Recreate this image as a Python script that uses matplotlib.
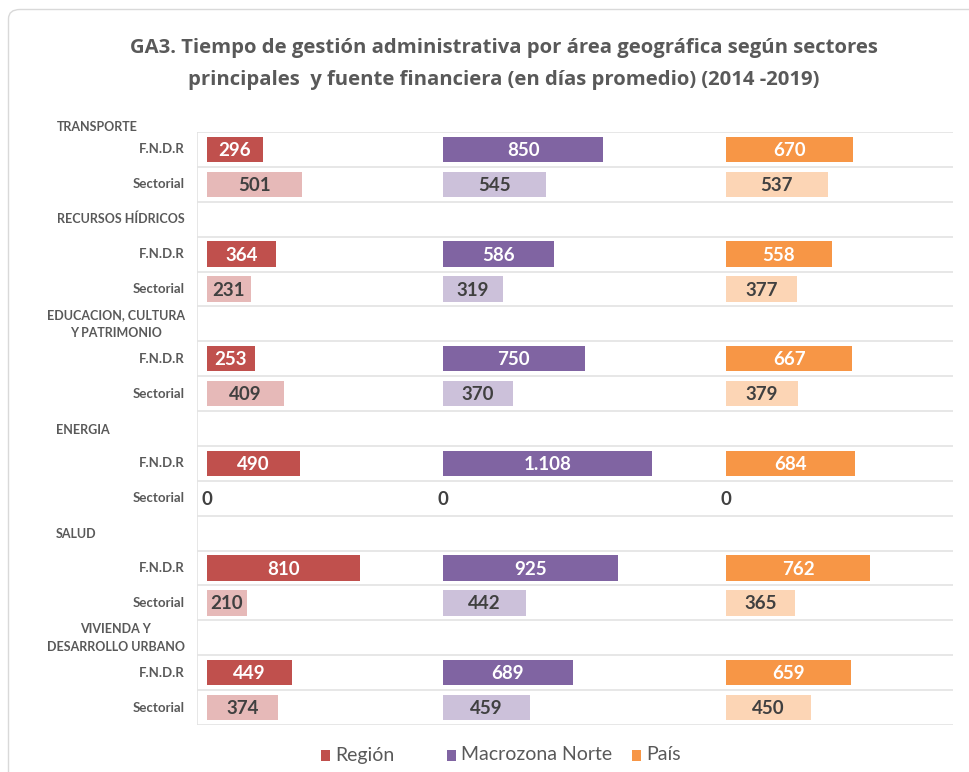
import matplotlib
matplotlib.use("Agg")
import matplotlib.pyplot as plt
from matplotlib.patches import FancyBboxPatch, Rectangle

# ---------------- data ----------------
sectors = ["TRANSPORTE", "RECURSOS HÍDRICOS", "EDUCACION, CULTURA\nY PATRIMONIO",
           "ENERGIA", "SALUD", "VIVIENDA Y\nDESARROLLO URBANO"]
sources = ["F.N.D.R", "Sectorial"]
series_names = ["Región", "Macrozona Norte", "País"]
region_fndr = [296, 364, 253, 490, 810, 449]
region_sect = [501, 231, 409, 0, 210, 374]
macro_fndr = [850, 586, 750, 1108, 925, 689]
macro_sect = [545, 319, 370, 0, 442, 459]
pais_fndr = [670, 558, 667, 684, 762, 659]
pais_sect = [537, 377, 379, 0, 365, 450]
title = ("GA3. Tiempo de gestión administrativa por área geográfica según sectores\n"
         "principales  y fuente financiera (en días promedio) (2014 -2019)")

# ---------------- style ----------------
W, H = 969, 772
dark_colors = ["#C0504D", "#8064A2", "#F79646"]
light_colors = ["#E6B9B8", "#CCC1DA", "#FCD5B5"]
offsets = [53, 1303, 2803]
grid_c = "#E3E3E3"
txt_c = "#595959"
lbl_font = "Lato"

fig = plt.figure(figsize=(W / 100, H / 100), dpi=100)
fig.patch.set_facecolor("white")

# outer border (only left/top visible)
border = FancyBboxPatch((8.5 / W, 1 - 1000 / H), 1000 / W, (1000 - 9.5) / H,
                        boxstyle="round,pad=0,rounding_size=0.012",
                        transform=fig.transFigure, facecolor="none",
                        edgecolor="#D9D9D9", linewidth=1.0)
fig.patches.append(border)

ax_left, ax_right, ax_top, ax_bot = 197, 953, 132, 725
ax = fig.add_axes([ax_left / W, 1 - ax_bot / H, (ax_right - ax_left) / W, (ax_bot - ax_top) / H])

# rows: first sector has no header row inside the plot area
rows = []  # (kind, sector_idx, source_idx)
for i, s in enumerate(sectors):
    if i > 0:
        rows.append(("header", i, None))
    rows.append(("bar", i, 0))
    rows.append(("bar", i, 1))
n = len(rows)

series = [(region_fndr, region_sect), (macro_fndr, macro_sect), (pais_fndr, pais_sect)]

def fmt(v):
    return f"{v:,}".replace(",", ".")

for y, (kind, si, src) in enumerate(rows):
    if kind != "bar":
        continue
    for k, (f_vals, s_vals) in enumerate(series):
        vals = f_vals if src == 0 else s_vals
        v = vals[si]
        col = dark_colors[k] if src == 0 else light_colors[k]
        ax.barh(y, v, left=offsets[k], height=0.73, color=col, edgecolor="none")
        tc = "white" if src == 0 else "#404040"
        ax.text(offsets[k] + v / 2, y + 0.03, fmt(v), ha="center", va="center",
                fontsize=13.5, fontweight="bold", color=tc, family=lbl_font)

ax.set_xlim(0, (ax_right - ax_left) / 0.1888)
ax.set_ylim(n - 0.5, -0.5)
for b in range(n + 1):
    ax.axhline(b - 0.5, color=grid_c, linewidth=1.2, zorder=0)
ax.axvline(0, color=grid_c, linewidth=1.2, zorder=0)
for sp in ax.spines.values():
    sp.set_visible(False)
ax.set_xticks([])
ax.set_yticks([])

# row labels
def px_to_fig(x, y):
    return x / W, 1 - y / H

hdr_fs = 9.0
row_h = (ax_bot - ax_top) / n
for y, (kind, si, src) in enumerate(rows):
    yc = ax_top + (y + 0.5) * row_h
    if kind == "bar":
        fx, fy = px_to_fig(185, yc)
        fig.text(fx, fy, sources[src], ha="right", va="center", fontsize=9.5,
                 fontweight="bold", color=txt_c, family=lbl_font)
    else:
        name = sectors[si]
        if "\n" in name:
            fx, fy = px_to_fig(116, yc)
            fig.text(fx, fy, name, ha="center", va="center", fontsize=hdr_fs,
                     fontweight="bold", color=txt_c, family=lbl_font, linespacing=1.6)
        elif si == 1:
            fx, fy = px_to_fig(185, yc)
            fig.text(fx, fy, name, ha="right", va="center", fontsize=hdr_fs,
                     fontweight="bold", color=txt_c, family=lbl_font)
        else:
            fx, fy = px_to_fig(56, yc + 1)
            fig.text(fx, fy, name, ha="left", va="center", fontsize=hdr_fs,
                     fontweight="bold", color=txt_c, family=lbl_font)
# first sector header sits above plot area
fx, fy = px_to_fig(57, 127)
fig.text(fx, fy, sectors[0], ha="left", va="center", fontsize=hdr_fs,
         fontweight="bold", color=txt_c, family=lbl_font)

# title
fx, fy = px_to_fig(504, 64)
fig.text(fx, fy, title, ha="center", va="center", fontsize=14.6, fontweight="bold",
         color=txt_c, family="Open Sans", linespacing=1.77)

# legend
leg_x = [321, 447, 632]
for k, name in enumerate(series_names):
    x0 = leg_x[k]
    fig.patches.append(Rectangle((x0 / W, 1 - 761 / H), 9 / W, 11 / H,
                                 transform=fig.transFigure, facecolor=dark_colors[k],
                                 edgecolor="none"))
    fx, fy = px_to_fig(x0 + 14, 755)
    fig.text(fx, fy, name, ha="left", va="center", fontsize=14,
             color=txt_c, family=lbl_font)

fig.savefig("out.png", dpi=100)
